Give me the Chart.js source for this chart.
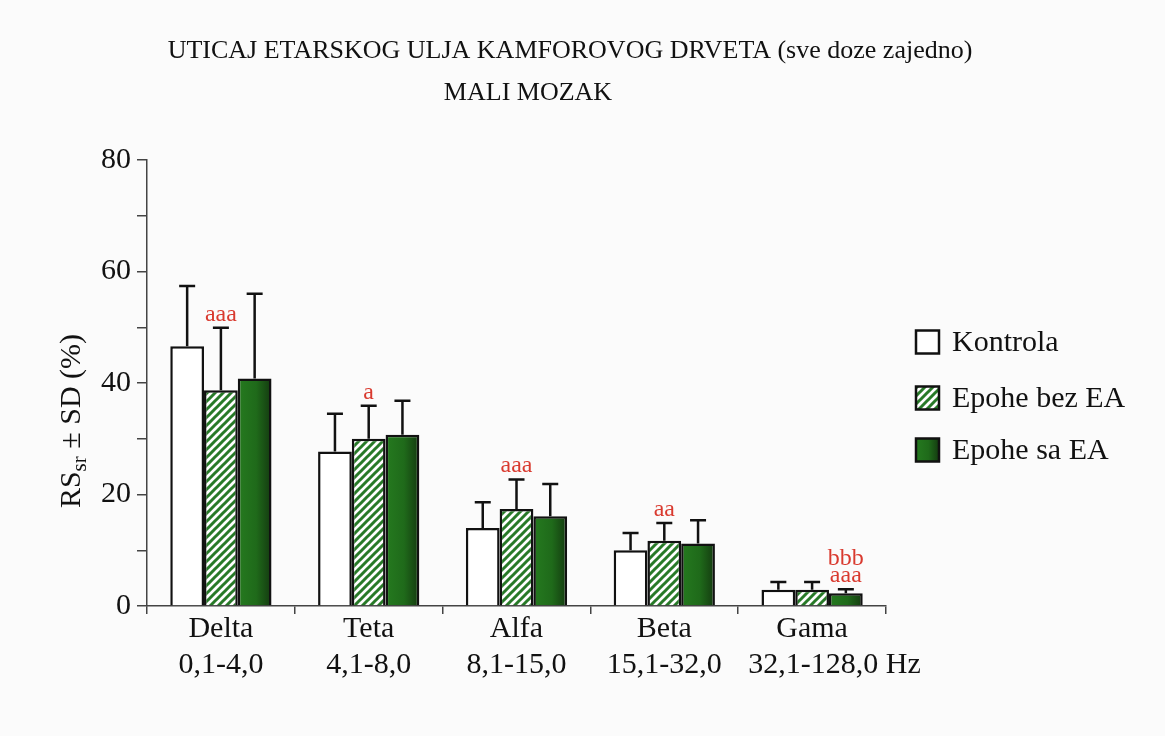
<!DOCTYPE html>
<html>
<head>
<meta charset="utf-8">
<script src="https://cdn.jsdelivr.net/npm/chart.js@4/dist/chart.umd.min.js"></script>
<style>
  html, body { margin: 0; padding: 0; background: #fbfbfb; }
  canvas { display: block; }
</style>
</head>
<body>
<canvas id="c" width="1165" height="736"></canvas>
<script>
// ---- data ----
const titleLines = ['UTICAJ ETARSKOG ULJA KAMFOROVOG DRVETA (sve doze zajedno)', 'MALI MOZAK'];
const categories = [['Delta', '0,1-4,0'], ['Teta', '4,1-8,0'], ['Alfa', '8,1-15,0'], ['Beta', '15,1-32,0'], ['Gama', '32,1-128,0 Hz']];
const seriesNames = ['Kontrola', 'Epohe bez EA', 'Epohe sa EA'];
const kontrola = [46.6, 27.7, 14.0, 10.0, 2.9];
const kontrolaSD = [10.8, 6.8, 4.6, 3.1, 1.4];
const bezEA = [38.7, 30.0, 17.4, 11.7, 2.9];
const bezEASD = [11.2, 5.9, 5.3, 3.2, 1.4];
const saEA = [40.8, 30.7, 16.1, 11.2, 2.3];
const saEASD = [15.2, 6.1, 5.8, 4.2, 0.7];
const annotBezEA = ['aaa', 'a', 'aaa', 'aa', ''];
const annotSaEA = ['', '', '', '', 'bbb\naaa'];
const yTicksMajor = [0, 20, 40, 60, 80];
const yTitleMain = 'RS';
const yTitleSub = 'sr';
const yTitleRest = ' \u00B1 SD (%)';

// ---- styles ----
const FONT = "'Liberation Serif', 'Times New Roman', serif";
const catPct = 0.685;
const stripeGreen = '#287a28';

function makeHatch() {
  const s = 8;
  const c = document.createElement('canvas');
  c.width = s; c.height = s;
  const g = c.getContext('2d');
  g.fillStyle = '#ffffff';
  g.fillRect(0, 0, s, s);
  g.strokeStyle = stripeGreen;
  g.lineWidth = 3;
  g.beginPath();
  g.moveTo(-2, s + 2); g.lineTo(s + 2, -2);
  g.moveTo(-2, 2); g.lineTo(2, -2);
  g.moveTo(s - 2, s + 2); g.lineTo(s + 2, s - 2);
  g.stroke();
  return g.createPattern(c, 'repeat');
}
const hatch = makeHatch();

function darkGrad(ctx2d, x0, x1) {
  const g = ctx2d.createLinearGradient(x0, 0, x1, 0);
  g.addColorStop(0, '#257a1f');
  g.addColorStop(0.55, '#1f6a1a');
  g.addColorStop(1, '#143a10');
  return g;
}

const sdByDataset = [kontrolaSD, bezEASD, saEASD];
const annotByDataset = [null, annotBezEA, annotSaEA];

const bgPlugin = {
  id: 'bg',
  beforeDraw(chart) {
    const c = chart.ctx;
    c.save();
    c.fillStyle = '#fbfbfb';
    c.fillRect(0, 0, chart.width, chart.height);
    c.restore();
  }
};

const extrasPlugin = {
  id: 'extras',
  afterDatasetsDraw(chart) {
    const c = chart.ctx;
    const ys = chart.scales.y;
    c.save();
    chart.data.datasets.forEach((ds, di) => {
      const meta = chart.getDatasetMeta(di);
      meta.data.forEach((el, i) => {
        const v = ds.data[i];
        const sd = sdByDataset[di][i];
        const yTop = ys.getPixelForValue(v + sd);
        const yBar = ys.getPixelForValue(v);
        c.strokeStyle = '#111';
        c.lineWidth = 2.5;
        c.beginPath();
        c.moveTo(el.x, yBar);
        c.lineTo(el.x, yTop);
        c.moveTo(el.x - 8, yTop);
        c.lineTo(el.x + 8, yTop);
        c.stroke();
        const ann = annotByDataset[di] ? annotByDataset[di][i] : '';
        if (ann) {
          const lines = ann.split('\n');
          c.fillStyle = '#d93a2f';
          c.font = '24px ' + FONT;
          c.textAlign = 'center';
          c.textBaseline = 'alphabetic';
          let base = yTop - 7;
          for (let k = lines.length - 1; k >= 0; k--) {
            c.fillText(lines[k], el.x, base);
            base -= 17;
          }
        }
      });
    });
    c.restore();
  },
  afterDraw(chart) {
    const c = chart.ctx;
    c.save();
    // title
    c.fillStyle = '#111';
    c.font = '26px ' + FONT;
    c.textAlign = 'center';
    c.textBaseline = 'middle';
    c.fillText(titleLines[0], 570, 51);
    c.fillText(titleLines[1], 528, 93);

    // y title with subscript
    c.save();
    c.translate(70, 421);
    c.rotate(-Math.PI / 2);
    const big = '30px ' + FONT, small = '21px ' + FONT;
    c.font = big; const w1 = c.measureText(yTitleMain).width;
    c.font = small; const w2 = c.measureText(yTitleSub).width;
    c.font = big; const w3 = c.measureText(yTitleRest).width;
    let x = -(w1 + w2 + w3) / 2;
    c.textAlign = 'left';
    c.textBaseline = 'alphabetic';
    c.font = big; c.fillText(yTitleMain, x, 10); x += w1;
    c.font = small; c.fillText(yTitleSub, x, 16); x += w2;
    c.font = big; c.fillText(yTitleRest, x, 10);
    c.restore();

    // legend
    const lx = 916, bs = 23;
    const centers = [342, 398, 450];
    const fills = ['#ffffff', hatch, darkGrad(c, lx, lx + bs)];
    c.font = '30px ' + FONT;
    c.textAlign = 'left';
    c.textBaseline = 'middle';
    seriesNames.forEach((name, k) => {
      const top = centers[k] - bs / 2;
      c.fillStyle = fills[k];
      c.fillRect(lx, top, bs, bs);
      c.strokeStyle = '#111';
      c.lineWidth = 2.5;
      c.strokeRect(lx, top, bs, bs);
      c.fillStyle = '#111';
      c.fillText(name, 952, centers[k] + 1);
    });
    c.restore();
  }
};

const ctx = document.getElementById('c').getContext('2d');
new Chart(ctx, {
  type: 'bar',
  data: {
    labels: categories,
    datasets: [
      { label: seriesNames[0], data: kontrola, backgroundColor: '#ffffff', borderColor: '#111', borderWidth: 2.5 },
      { label: seriesNames[1], data: bezEA, backgroundColor: hatch, borderColor: '#111', borderWidth: 2.5 },
      { label: seriesNames[2], data: saEA, borderColor: '#111', borderWidth: 2.5,
        backgroundColor: (cx) => {
          const chart = cx.chart;
          const xs = chart.scales && chart.scales.x;
          if (!xs || cx.dataIndex === undefined || !chart.chartArea) return '#1f6a1a';
          const cw = xs.width / categories.length;
          const bw = cw * catPct / 3;
          const center = xs.getPixelForValue(cx.dataIndex) + bw;
          return darkGrad(chart.ctx, center - bw / 2, center + bw / 2);
        } }
    ]
  },
  options: {
    responsive: false,
    animation: false,
    events: [],
    layout: { padding: { left: 0, right: 279, top: 160, bottom: 0 } },
    datasets: { bar: { categoryPercentage: catPct, barPercentage: 1.0 } },
    plugins: { legend: { display: false }, title: { display: false }, tooltip: { enabled: false } },
    scales: {
      x: {
        afterFit(s) { s.height = 130; },
        grid: { drawOnChartArea: false, tickLength: 8, color: '#444', lineWidth: 1.5, offset: true },
        border: { color: '#444', width: 1.5 },
        ticks: {
          color: '#111', padding: -3,
          font: { family: FONT, size: 30, lineHeight: 1.2 },
          maxRotation: 0, autoSkip: false,
          callback(v, i) {
            const lab = categories[i];
            return lab.map(t => t.endsWith(' Hz') ? '\u2002\u2002\u2002' + t : t);
          }
        }
      },
      y: {
        min: 0, max: 80,
        afterFit(s) { s.width = 147; },
        grid: { drawOnChartArea: false, tickLength: 10, color: '#444', lineWidth: 1.5 },
        border: { color: '#444', width: 1.5 },
        ticks: {
          stepSize: 10, color: '#111', padding: 6,
          font: { family: FONT, size: 30 },
          callback(v) { return yTicksMajor.includes(v) ? String(v) : ''; }
        }
      }
    }
  },
  plugins: [bgPlugin, extrasPlugin]
});
</script>
</body>
</html>
